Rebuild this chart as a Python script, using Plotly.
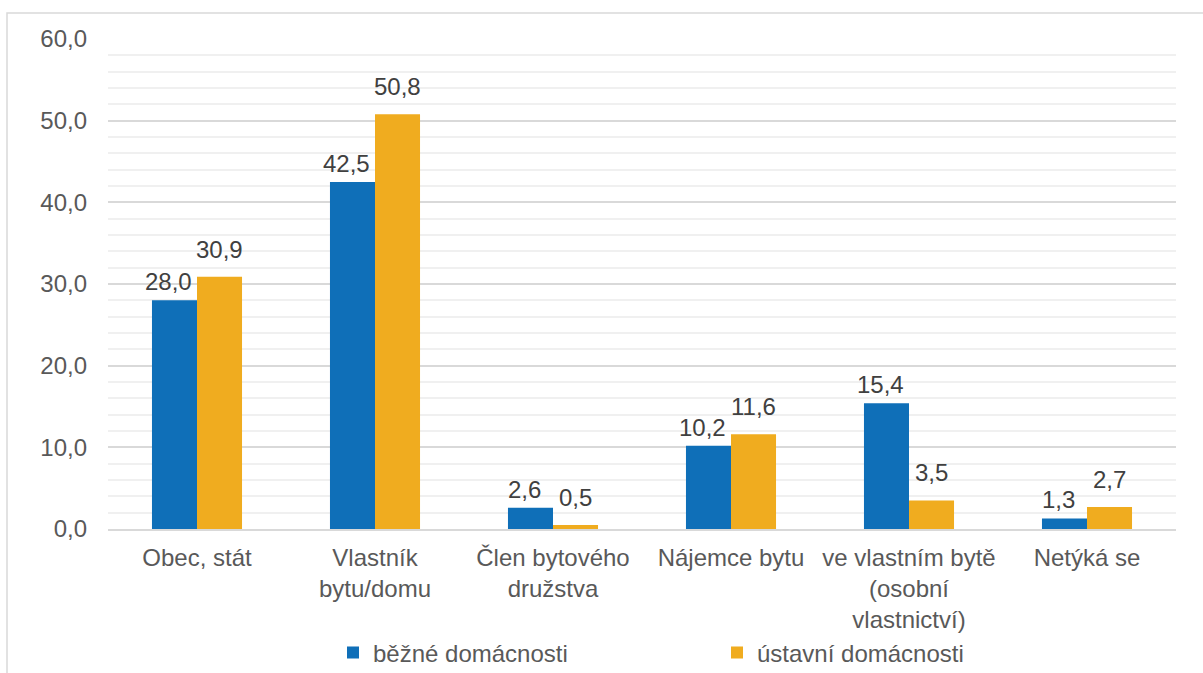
import plotly.graph_objects as go

categories = ["Obec, stát", "Vlastník<br>bytu/domu", "Člen bytového<br>družstva",
              "Nájemce bytu", "ve vlastním bytě<br>(osobní<br>vlastnictví)", "Netýká se"]
bezne = [28.0, 42.5, 2.6, 10.2, 15.4, 1.3]
ustavni = [30.9, 50.8, 0.5, 11.6, 3.5, 2.7]
series_names = ["běžné domácnosti", "ústavní domácnosti"]
colors = ["#0F6FB8", "#F0AC1F"]

FONT = "Liberation Sans, Arial, sans-serif"
BARGAP = 0.494

fig = go.Figure()
for name, vals, col in zip(series_names, [bezne, ustavni], colors):
    fig.add_trace(go.Bar(
        x=categories, y=vals, name=name,
        marker=dict(color=col, line=dict(width=0)),
        cliponaxis=False,
    ))

# data labels, positioned through the axes at each bar's centre
half = (1 - BARGAP) / 4
annotations = []
for s, (vals, off, xs, ys) in enumerate([(bezne, -half, -6, 3), (ustavni, half, 0, 12)]):
    for i, v in enumerate(vals):
        annotations.append(dict(
            x=i + off, y=v, xref="x", yref="y",
            text=f"{v:.1f}".replace(".", ","), showarrow=False,
            yanchor="bottom", xanchor="center", xshift=xs, yshift=ys,
            font=dict(size=24, color="#404040", family=FONT),
        ))

W, H = 1203, 673
L, R, T, B = 108, 27, 39, 144
pw, ph = W - L - R, H - T - B

def px(x):
    return (x - L) / pw

def py(y):
    return (H - B - y) / ph

fig.update_layout(
    width=W, height=H,
    margin=dict(l=L, r=R, t=T, b=B),
    paper_bgcolor="white", plot_bgcolor="white",
    font=dict(family=FONT, size=24, color="#595959"),
    barmode="group", bargap=BARGAP, bargroupgap=0,
    separators=", ",
    showlegend=True,
    annotations=annotations,
    legend=dict(
        orientation="h", xref="container", yref="container",
        x=333 / W, xanchor="left", y=1 - 653 / H, yanchor="middle",
        entrywidth=339, entrywidthmode="pixels",
        font=dict(size=24, color="#595959", family=FONT),
        itemwidth=30, bgcolor="rgba(0,0,0,0)",
    ),
    xaxis=dict(
        showline=True, linecolor="#d9d9d9", linewidth=1.5,
        showgrid=False, ticks="", tickfont=dict(size=24, color="#595959"),
        ticklabelstandoff=6, fixedrange=True, automargin=False,
    ),
    yaxis=dict(
        range=[0, 60], dtick=10, tick0=0, tickformat=".1f",
        showgrid=True, gridcolor="#d9d9d9", gridwidth=1.5,
        zeroline=False, showline=False, ticks="",
        tickfont=dict(size=24, color="#595959"),
        ticklabelstandoff=20, automargin=False,
        minor=dict(dtick=2, showgrid=True, gridcolor="#f0f0f0", gridwidth=1.5),
    ),
    shapes=[dict(
        type="rect", xref="paper", yref="paper",
        x0=px(7), x1=px(1215), y0=py(690), y1=py(13),
        line=dict(color="#d9d9d9", width=1.5), fillcolor="rgba(0,0,0,0)", layer="below",
    )],
)

fig.write_html("out.html", config={"displayModeBar": False},
               post_script="document.body.style.margin='0';")
